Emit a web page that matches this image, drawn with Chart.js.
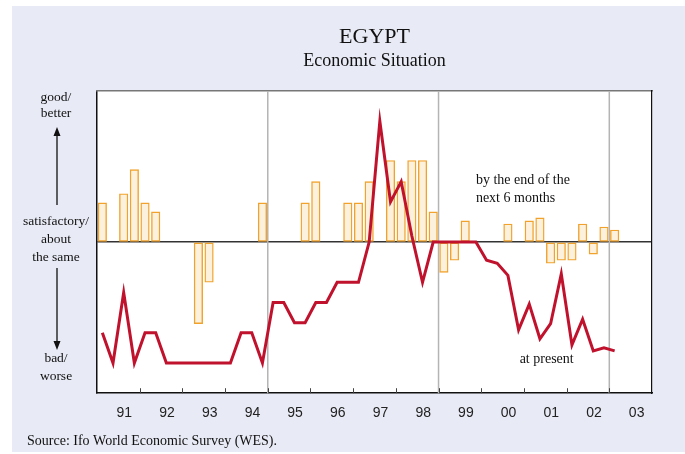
<!DOCTYPE html>
<html>
<head>
<meta charset="utf-8">
<script src="https://cdn.jsdelivr.net/npm/chart.js@4.4.0/dist/chart.umd.min.js"></script>
<style>
  html, body { margin: 0; padding: 0; background: #fff; }
  #panel { position: absolute; left: 12px; top: 6px; width: 673px; height: 446px; background: #e8eaf5; }
  #chart { position: absolute; left: 0; top: 0; }
</style>
</head>
<body>
<div id="panel"></div>
<canvas id="chart" width="685" height="454"></canvas>
<script>
// year labels along the bottom (each year = 4 quarterly surveys)
const yearLabels = ['91', '92', '93', '94', '95', '96', '97', '98', '99', '00', '01', '02', '03'];

// quarterly results 1991 Q1 .. 2003 Q1 on the 1 (bad) .. 9 (good) scale, 5 = satisfactory
const presentSituation = [
  2, 1, 3.33, 1, 2, 2, 1, 1, 1, 1, 1, 1, 1, 2, 2, 1,
  3, 3, 2.33, 2.33, 3, 3, 3.67, 3.67, 3.67, 5, 9, 6.33, 7, 5.2, 3.67, 5,
  5, 5, 5, 5, 4.4, 4.3, 3.9, 2.1, 2.95, 1.8, 2.3, 3.95, 1.6, 2.45, 1.4, 1.5,
  1.4
];
const expectations = [
  6.3, null, 6.6, 7.4, 6.3, 6, null, null, null, 2.3, 3.67, null, null, null, null, 6.3,
  null, null, null, 6.3, 7, null, null, 6.3, 6.3, 7, null, 7.7, 7, 7.7, 7.7, 6,
  4, 4.4, 5.7, null, null, null, 5.6, null, 5.7, 5.8, 4.3, 4.4, 4.4, 5.6, 4.6, 5.5,
  5.4
];

// years after which a grey divider is drawn
const dividerYears = ['94', '98', '02'];

const QUARTERS = yearLabels.length * 4;
const toPoints = arr => arr.map((v, i) => ({ x: i + 0.5, y: v }));

const SERIF = '"Liberation Serif", "Times New Roman", serif';
const SANS = '"Liberation Sans", Arial, sans-serif';

const decor = {
  id: 'decor',
  beforeDraw(chart) {
    const { ctx, chartArea: a } = chart;
    ctx.save();
    ctx.fillStyle = '#fff';
    ctx.fillRect(a.left, a.top, a.right - a.left, a.bottom - a.top);
    ctx.restore();
  },
  beforeDatasetsDraw(chart) {
    const { ctx, chartArea: a, scales: { x } } = chart;
    ctx.save();
    ctx.strokeStyle = '#b4b4b4';
    ctx.lineWidth = 1.5;
    dividerYears.forEach(y => {
      const px = x.getPixelForValue((yearLabels.indexOf(y) + 1) * 4);
      ctx.beginPath();
      ctx.moveTo(px, a.top);
      ctx.lineTo(px, a.bottom);
      ctx.stroke();
    });
    // short inward ticks at each year boundary
    ctx.strokeStyle = '#444';
    ctx.lineWidth = 1;
    for (let k = 1; k < yearLabels.length; k++) {
      const px = Math.round(x.getPixelForValue(k * 4)) + 0.5;
      ctx.beginPath();
      ctx.moveTo(px, a.bottom);
      ctx.lineTo(px, a.bottom - 5);
      ctx.stroke();
    }
    ctx.restore();
  },
  afterDraw(chart) {
    const { ctx, scales: { x, y } } = chart;
    ctx.save();
    ctx.fillStyle = '#111';
    ctx.textBaseline = 'middle';

    // scale wording on the left
    ctx.font = '13.5px ' + SERIF;
    ctx.textAlign = 'center';
    [['good/', 97], ['better', 113], ['satisfactory/', 221], ['about', 239],
     ['the same', 257], ['bad/', 358], ['worse', 376]].forEach(([t, ty]) => ctx.fillText(t, 56, ty));

    // arrows
    ctx.strokeStyle = '#111';
    ctx.lineWidth = 1.3;
    ctx.beginPath();
    ctx.moveTo(57, 205); ctx.lineTo(57, 134);
    ctx.moveTo(57, 268); ctx.lineTo(57, 343);
    ctx.stroke();
    ctx.beginPath();
    ctx.moveTo(57, 127); ctx.lineTo(53.5, 136); ctx.lineTo(60.5, 136); ctx.closePath();
    ctx.moveTo(57, 350); ctx.lineTo(53.5, 341); ctx.lineTo(60.5, 341); ctx.closePath();
    ctx.fill();

    // series notes
    ctx.font = '14px ' + SERIF;
    ctx.textAlign = 'left';
    const nx = x.getPixelForValue(35.5);
    ctx.fillText('by the end of the', nx, y.getPixelForValue(7.05));
    ctx.fillText('next 6 months', nx, y.getPixelForValue(6.45));
    ctx.fillText('at present', x.getPixelForValue(39.6), y.getPixelForValue(1.12));

    ctx.font = '14px ' + SERIF;
    ctx.fillText('Source: Ifo World Economic Survey (WES).', 27, 441);
    ctx.restore();
  }
};

new Chart(document.getElementById('chart'), {
  data: {
    datasets: [
      {
        type: 'line',
        label: 'at present',
        data: toPoints(presentSituation),
        borderColor: '#c0122d',
        borderWidth: 3,
        borderJoinStyle: 'miter',
        pointRadius: 0,
        tension: 0,
        order: 0
      },
      {
        type: 'bar',
        label: 'by the end of the next 6 months',
        data: toPoints(expectations),
        base: 5,
        backgroundColor: '#fcf1dd',
        borderColor: '#f1a22c',
        borderWidth: 1.4,
        borderSkipped: false,
        barThickness: 8.5,
        order: 1
      }
    ]
  },
  options: {
    responsive: false,
    animation: false,
    layout: { padding: { left: 97, right: 33, top: 24, bottom: 20 } },
    plugins: {
      legend: { display: false },
      tooltip: { enabled: false },
      title: {
        display: true,
        text: 'EGYPT',
        color: '#111',
        font: { family: SERIF, size: 22, weight: 'normal' },
        padding: { top: 0, bottom: 0 }
      },
      subtitle: {
        display: true,
        text: 'Economic Situation',
        color: '#111',
        font: { family: SERIF, size: 18, weight: 'normal' },
        padding: { top: 0, bottom: 19 }
      }
    },
    scales: {
      x: {
        type: 'linear',
        position: 'bottom',
        offset: false,
        min: 0,
        max: QUARTERS,
        afterBuildTicks: s => { s.ticks = yearLabels.map((_, k) => ({ value: k * 4 + 2 })); },
        ticks: {
          callback: (v, i) => yearLabels[i],
          autoSkip: false,
          maxRotation: 0,
          padding: 12,
          labelOffset: 6,
          color: '#222',
          font: { family: SANS, size: 14 }
        },
        grid: { display: false, drawTicks: false },
        border: { color: '#111', width: 1.5 }
      },
      y: {
        type: 'linear',
        min: 0,
        max: 10,
        afterBuildTicks: s => { s.ticks = [{ value: 5 }]; },
        ticks: { display: false },
        grid: { color: '#333', lineWidth: 1.5, drawTicks: false },
        border: { color: '#111', width: 1.5 }
      },
      xTop: {
        type: 'linear',
        position: 'top',
        ticks: { display: false },
        grid: { display: false, drawTicks: false },
        border: { color: '#777', width: 1.5 }
      },
      yRight: {
        type: 'linear',
        position: 'right',
        ticks: { display: false },
        grid: { display: false, drawTicks: false },
        border: { color: '#111', width: 1.2 }
      }
    }
  },
  plugins: [decor]
});
</script>
</body>
</html>
